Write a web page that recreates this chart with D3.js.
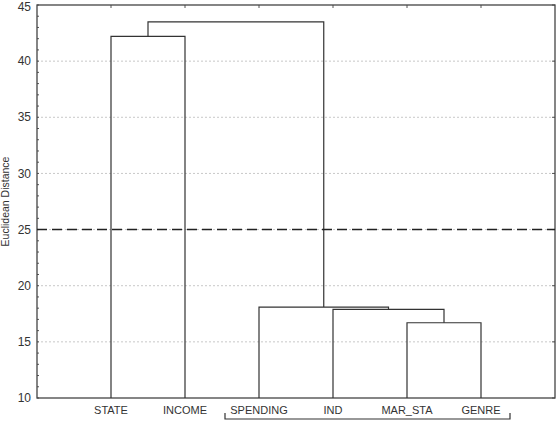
<!DOCTYPE html>
<html>
<head>
<meta charset="utf-8">
<script src="https://cdn.jsdelivr.net/npm/d3@7"></script>
<style>
  body { margin: 0; background: #fff; }
  svg { display: block; font-family: "Liberation Sans", Arial, sans-serif; }
</style>
</head>
<body>
<div id="chart"></div>
<script>
var leaves = ["STATE", "INCOME", "SPENDING", "IND", "MAR_STA", "GENRE"];
// linkage: [left, right, distance]; ids >= leaves.length are earlier merges
var merges = [
    [4, 5, 16.7],
    [3, 6, 17.9],
    [2, 7, 18.1],
    [0, 1, 42.2],
    [9, 8, 43.5]
];
var yTicks = [10, 15, 20, 25, 30, 35, 40, 45];
var cutLevel = 25;

var width = 559, height = 421;
var margin = {top: 5, right: 4, bottom: 23, left: 37};

var svg = d3.select("#chart").append("svg")
    .attr("width", width).attr("height", height);

var x = d3.scaleLinear().domain([0, leaves.length + 1])
    .range([margin.left, width - margin.right]);
var y = d3.scaleLinear().domain([10, 45])
    .range([height - margin.bottom, margin.top]);

var x0 = x.range()[0], x1 = x.range()[1],
    y0 = y.range()[0], y1 = y.range()[1];

// grid
svg.append("g").selectAll("line")
    .data(yTicks.filter(function(d) { return d > 10 && d < 45; }))
    .enter().append("line")
    .attr("x1", x0).attr("x2", x1)
    .attr("y1", function(d) { return y(d); })
    .attr("y2", function(d) { return y(d); })
    .attr("stroke", "#c8c8c8")
    .attr("stroke-width", 1)
    .attr("stroke-dasharray", "2,2");

// minor ticks on left axis
svg.append("g").selectAll("line")
    .data(d3.range(10, 46, 1))
    .enter().append("line")
    .attr("x1", x0).attr("x2", x0 + 2)
    .attr("y1", function(d) { return y(d); })
    .attr("y2", function(d) { return y(d); })
    .attr("stroke", "#555");

// major ticks on right axis
svg.append("g").selectAll("line")
    .data(yTicks)
    .enter().append("line")
    .attr("x1", x1 - 3).attr("x2", x1)
    .attr("y1", function(d) { return y(d); })
    .attr("y2", function(d) { return y(d); })
    .attr("stroke", "#555");

// top ticks at leaves
svg.append("g").selectAll("line")
    .data(leaves)
    .enter().append("line")
    .attr("x1", function(d, i) { return x(i + 1); })
    .attr("x2", function(d, i) { return x(i + 1); })
    .attr("y1", y1).attr("y2", y1 + 3)
    .attr("stroke", "#555");

// frame
svg.append("rect")
    .attr("x", x0).attr("y", y1)
    .attr("width", x1 - x0).attr("height", y0 - y1)
    .attr("fill", "none").attr("stroke", "#444").attr("stroke-width", 1.3);

// y tick labels (top one nudged down so it stays on the page)
svg.append("g").selectAll("text")
    .data(yTicks)
    .enter().append("text")
    .attr("x", x0 - 6)
    .attr("y", function(d) { return Math.max(y(d), 7); })
    .attr("dy", "0.35em")
    .attr("text-anchor", "end")
    .attr("font-size", 12)
    .attr("fill", "#333")
    .text(function(d) { return d; });

// y axis title
svg.append("text")
    .attr("transform", "translate(9," + ((y0 + y1) / 2) + ") rotate(-90)")
    .attr("text-anchor", "middle")
    .attr("font-size", 10.5)
    .attr("fill", "#333")
    .text("Euclidean Distance");

// dendrogram
var nodes = leaves.map(function(d, i) { return {x: x(i + 1), h: 10}; });
var tree = svg.append("g").attr("fill", "none").attr("stroke", "#333").attr("stroke-width", 1.2);
merges.forEach(function(m) {
    var a = nodes[m[0]], b = nodes[m[1]], h = m[2];
    tree.append("path")
        .attr("d", "M" + a.x + "," + y(a.h) + "V" + y(h) + "H" + b.x + "V" + y(b.h));
    nodes.push({x: (a.x + b.x) / 2, h: h});
});

// cut line
svg.append("line")
    .attr("x1", x0).attr("x2", x1)
    .attr("y1", y(cutLevel)).attr("y2", y(cutLevel))
    .attr("stroke", "#222")
    .attr("stroke-width", 1.5)
    .attr("stroke-dasharray", "10,5");

// leaf labels
svg.append("g").selectAll("text")
    .data(leaves)
    .enter().append("text")
    .attr("x", function(d, i) { return x(i + 1); })
    .attr("y", y0 + 16)
    .attr("text-anchor", "middle")
    .attr("font-size", 11)
    .attr("fill", "#333")
    .text(function(d) { return d; });

// bracket under the right cluster
var bl = x(3) - 34, br = x(6) + 29;
svg.append("path")
    .attr("d", "M" + bl + "," + (y0 + 15) + "V" + (y0 + 21) + "H" + br + "V" + (y0 + 15))
    .attr("fill", "none").attr("stroke", "#333").attr("stroke-width", 1.2);
</script>
</body>
</html>
